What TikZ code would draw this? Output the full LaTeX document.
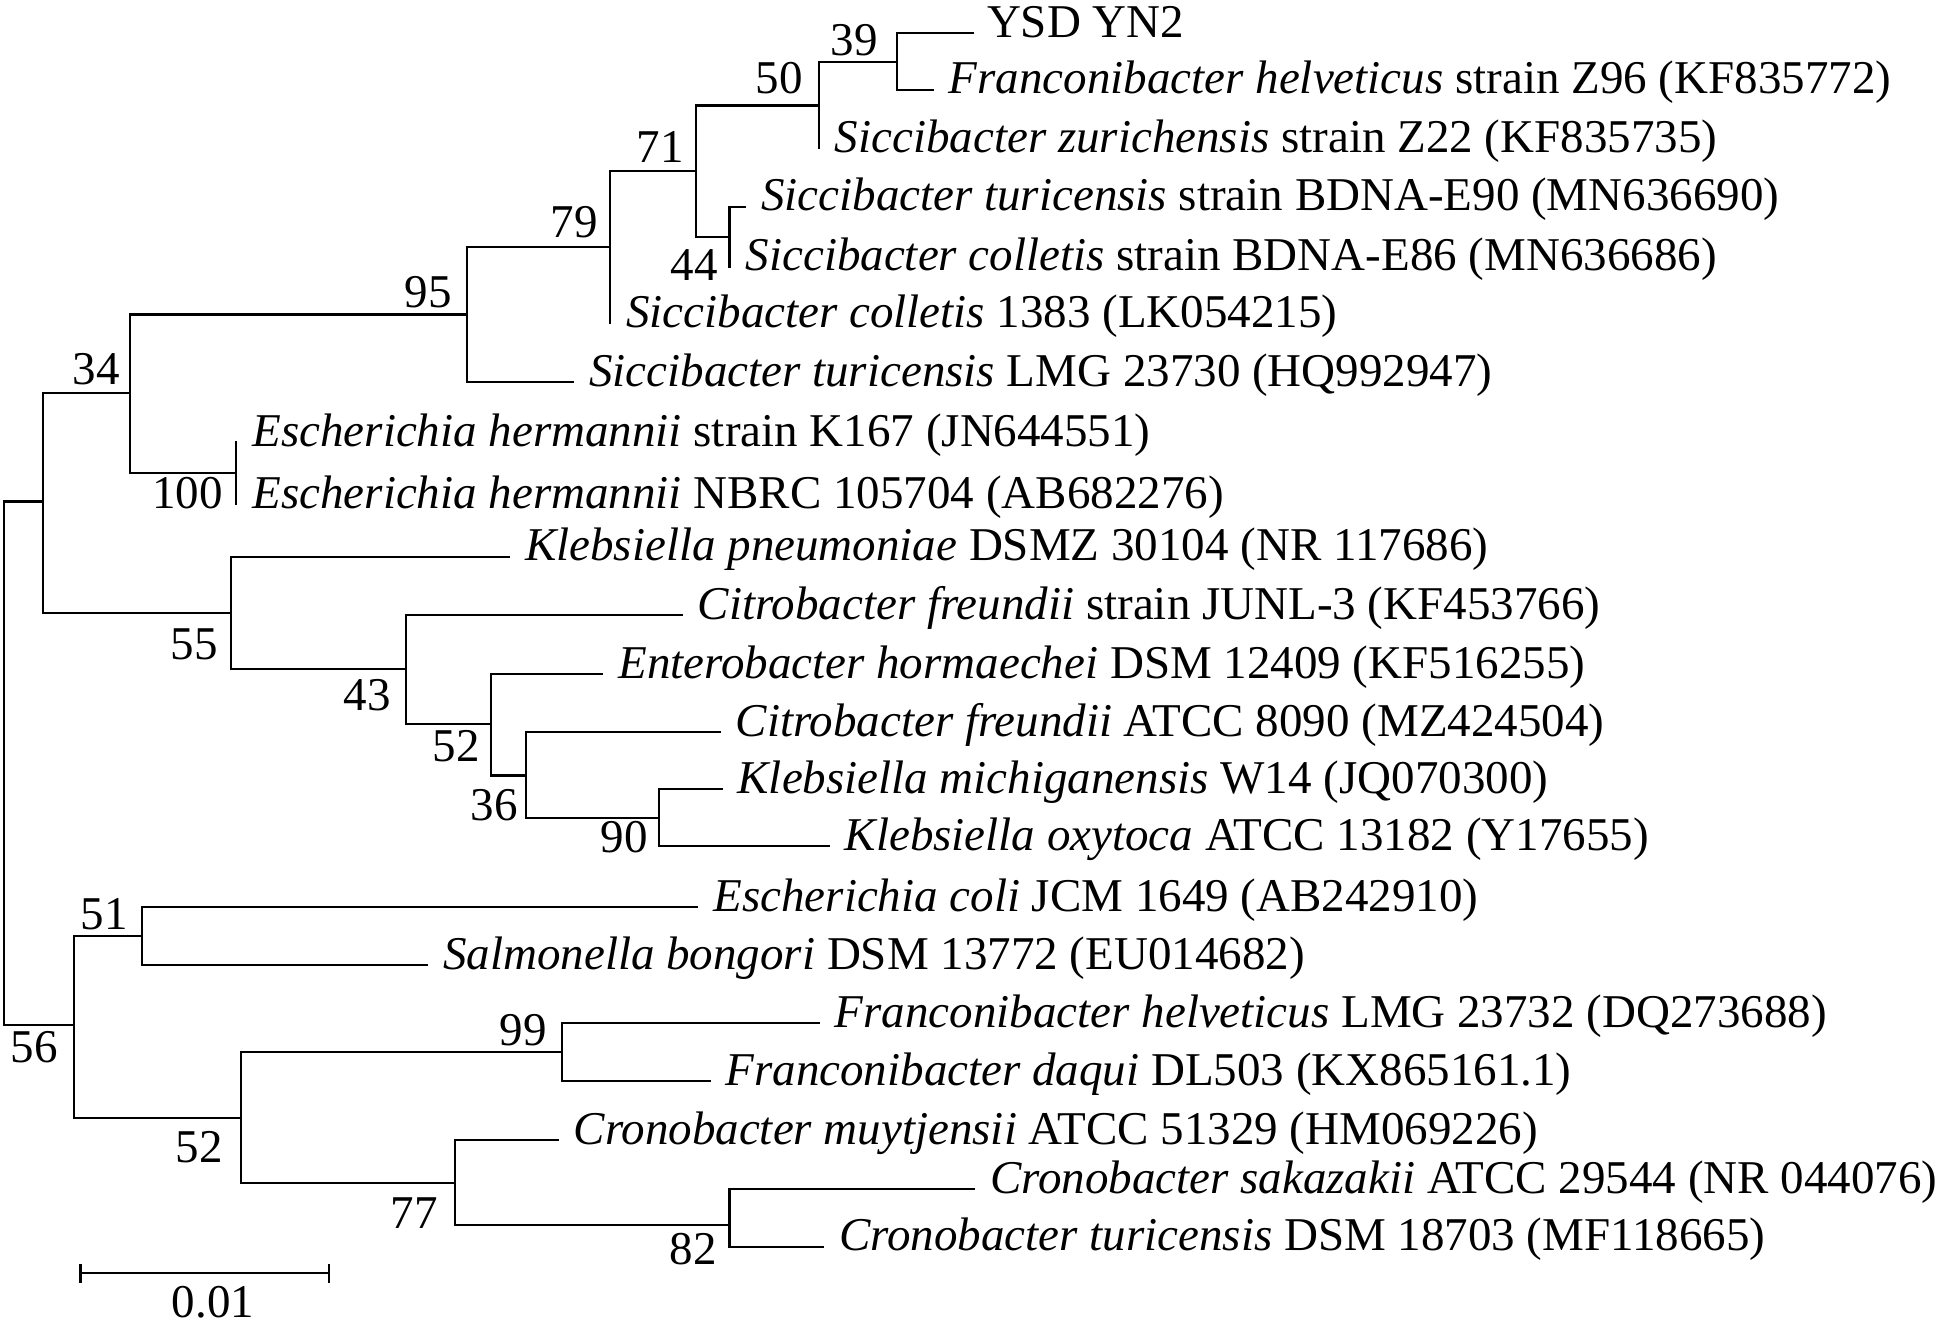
\documentclass[tikz,border=0pt]{standalone}
\usepackage{fontspec}
\setmainfont{Liberation Serif}
\begin{document}
\begin{tikzpicture}[x=1pt,y=-1pt,
  br/.style={line width=2.2pt, line cap=rect},
  tx/.style={anchor=base west, inner sep=0pt, font=\fontsize{47}{56}\selectfont},
  bs/.style={anchor=base east, inner sep=0pt, font=\fontsize{47}{56}\selectfont}]
\useasboundingbox (0,0) rectangle (1944,1327);
% internal nodes
\coordinate (R) at (4,763);
\coordinate (A) at (42.7,501.5);
\coordinate (n34) at (129.7,393);
\coordinate (n95) at (467,314.5);
\coordinate (n79) at (610,247);
\coordinate (n71) at (696,171);
\coordinate (n50) at (818.7,105.5);
\coordinate (n39) at (896.9,61.7);
\coordinate (n44) at (729.5,237);
\coordinate (n100) at (236.3,473);
\coordinate (n55) at (230.9,613);
\coordinate (n43) at (406.2,669);
\coordinate (n52) at (491.2,724.3);
\coordinate (n36) at (525.6,775.5);
\coordinate (n90) at (659,818);
\coordinate (n56) at (73.8,1025);
\coordinate (n51) at (142.2,936);
\coordinate (n52b) at (241.2,1117.7);
\coordinate (n99) at (561.7,1052.3);
\coordinate (n77) at (455.1,1183.3);
\coordinate (n82) at (729.5,1225);
% leaf ends
\coordinate (l1) at (972.8,33.3);
\coordinate (l2) at (932.6,90);
\coordinate (l3) at (818.7,148.3);
\coordinate (l4) at (745,206.7);
\coordinate (l5) at (729.5,266.7);
\coordinate (l6) at (610,323.3);
\coordinate (l7) at (573,382.3);
\coordinate (l8) at (236.3,442);
\coordinate (l9) at (236.3,504);
\coordinate (l10) at (509,556.7);
\coordinate (l11) at (681.7,615);
\coordinate (l12) at (602.3,674);
\coordinate (l13) at (719.6,732.3);
\coordinate (l14) at (721.4,789.3);
\coordinate (l15) at (828.6,846);
\coordinate (l16) at (697.3,907.3);
\coordinate (l17) at (427,965);
\coordinate (l18) at (818.7,1023.3);
\coordinate (l19) at (709.4,1081);
\coordinate (l20) at (557.5,1140);
\coordinate (l21) at (974,1189);
\coordinate (l22) at (823.2,1246.7);
% branches
\draw[br] (R) |- (A);   \draw[br] (R) |- (n56);
\draw[br] (A) |- (n34); \draw[br] (A) |- (n55);
\draw[br] (n34) |- (n95); \draw[br] (n34) |- (n100);
\draw[br] (n95) |- (n79); \draw[br] (n95) |- (l7);
\draw[br] (n79) |- (n71); \draw[br] (n79) |- (l6);
\draw[br] (n71) |- (n50); \draw[br] (n71) |- (n44);
\draw[br] (n50) |- (n39); \draw[br] (n50) |- (l3);
\draw[br] (n39) |- (l1); \draw[br] (n39) |- (l2);
\draw[br] (n44) |- (l4); \draw[br] (n44) |- (l5);
\draw[br] (n100) |- (l8); \draw[br] (n100) |- (l9);
\draw[br] (n55) |- (l10); \draw[br] (n55) |- (n43);
\draw[br] (n43) |- (l11); \draw[br] (n43) |- (n52);
\draw[br] (n52) |- (l12); \draw[br] (n52) |- (n36);
\draw[br] (n36) |- (l13); \draw[br] (n36) |- (n90);
\draw[br] (n90) |- (l14); \draw[br] (n90) |- (l15);
\draw[br] (n56) |- (n51); \draw[br] (n56) |- (n52b);
\draw[br] (n51) |- (l16); \draw[br] (n51) |- (l17);
\draw[br] (n52b) |- (n99); \draw[br] (n52b) |- (n77);
\draw[br] (n99) |- (l18); \draw[br] (n99) |- (l19);
\draw[br] (n77) |- (l20); \draw[br] (n77) |- (n82);
\draw[br] (n82) |- (l21); \draw[br] (n82) |- (l22);
% leaf labels
\node[tx] (t1) at ([shift={(14,4)}]l1) {YSD YN2};
\node[tx] (t2) at ([shift={(16,4)}]l2) {\textit{Franconibacter helveticus} strain Z96 (KF835772)};
\node[tx] (t3) at ([shift={(16,4)}]l3) {\textit{Siccibacter zurichensis} strain Z22 (KF835735)};
\node[tx] (t4) at ([shift={(16,4)}]l4) {\textit{Siccibacter turicensis} strain BDNA-E90 (MN636690)};
\node[tx] (t5) at ([shift={(16,4)}]l5) {\textit{Siccibacter colletis} strain BDNA-E86 (MN636686)};
\node[tx] (t6) at ([shift={(16,4)}]l6) {\textit{Siccibacter colletis} 1383 (LK054215)};
\node[tx] (t7) at ([shift={(16,4)}]l7) {\textit{Siccibacter turicensis} LMG 23730 (HQ992947)};
\node[tx] (t8) at ([shift={(16,4)}]l8) {\textit{Escherichia hermannii} strain K167 (JN644551)};
\node[tx] (t9) at ([shift={(16,4)}]l9) {\textit{Escherichia hermannii} NBRC 105704 (AB682276)};
\node[tx] (t10) at ([shift={(16,4)}]l10) {\textit{Klebsiella pneumoniae} DSMZ 30104 (NR 117686)};
\node[tx] (t11) at ([shift={(16,4)}]l11) {\textit{Citrobacter freundii} strain JUNL-3 (KF453766)};
\node[tx] (t12) at ([shift={(16,4)}]l12) {\textit{Enterobacter hormaechei} DSM 12409 (KF516255)};
\node[tx] (t13) at ([shift={(16,4)}]l13) {\textit{Citrobacter freundii} ATCC 8090 (MZ424504)};
\node[tx] (t14) at ([shift={(16,4)}]l14) {\textit{Klebsiella michiganensis} W14 (JQ070300)};
\node[tx] (t15) at ([shift={(16,4)}]l15) {\textit{Klebsiella oxytoca} ATCC 13182 (Y17655)};
\node[tx] (t16) at ([shift={(16,4)}]l16) {\textit{Escherichia coli} JCM 1649 (AB242910)};
\node[tx] (t17) at ([shift={(16,4)}]l17) {\textit{Salmonella bongori} DSM 13772 (EU014682)};
\node[tx] (t18) at ([shift={(16,4)}]l18) {\textit{Franconibacter helveticus} LMG 23732 (DQ273688)};
\node[tx] (t19) at ([shift={(16,4)}]l19) {\textit{Franconibacter daqui} DL503 (KX865161.1)};
\node[tx] (t20) at ([shift={(16,4)}]l20) {\textit{Cronobacter muytjensii} ATCC 51329 (HM069226)};
\node[tx] (t21) at ([shift={(16,4)}]l21) {\textit{Cronobacter sakazakii} ATCC 29544 (NR 044076)};
\node[tx] (t22) at ([shift={(16,4)}]l22) {\textit{Cronobacter turicensis} DSM 18703 (MF118665)};
% bootstrap values
\node[bs] (b39) at (878,56) {39};
\node[bs] (b50) at (803,94) {50};
\node[bs] (b71) at (684,163) {71};
\node[bs] (b79) at (598,237) {79};
\node[bs] (b95) at (452,307) {95};
\node[bs] (b34) at (120,384) {34};
\node[bs] (b44) at (718,280) {44};
\node[bs] (b100) at (223,508) {100};
\node[bs] (b55) at (218,659) {55};
\node[bs] (b43) at (391,710) {43};
\node[bs] (b52) at (480,761) {52};
\node[bs] (b36) at (518,820) {36};
\node[bs] (b90) at (648,852) {90};
\node[bs] (b51) at (128,929) {51};
\node[bs] (b56) at (58,1062) {56};
\node[bs] (b99) at (547,1045) {99};
\node[bs] (b52b) at (223,1162) {52};
\node[bs] (b77) at (438,1228) {77};
\node[bs] (b82) at (717,1264) {82};
% scale bar
\coordinate (s1) at (80.5,1273.3);
\coordinate (s2) at (329,1273.3);
\draw[br, line cap=butt] (s1) -- (s2);
\draw[br, line cap=butt] ([shift={(0,-9.5)}]s1) -- ([shift={(0,9.5)}]s1);
\draw[br, line cap=butt] ([shift={(0,-9.5)}]s2) -- ([shift={(0,9.5)}]s2);
\node[font=\fontsize{47}{56}\selectfont, anchor=base, inner sep=0pt] (sbl) at (213,1317) {0.01};
\end{tikzpicture}
\end{document}
